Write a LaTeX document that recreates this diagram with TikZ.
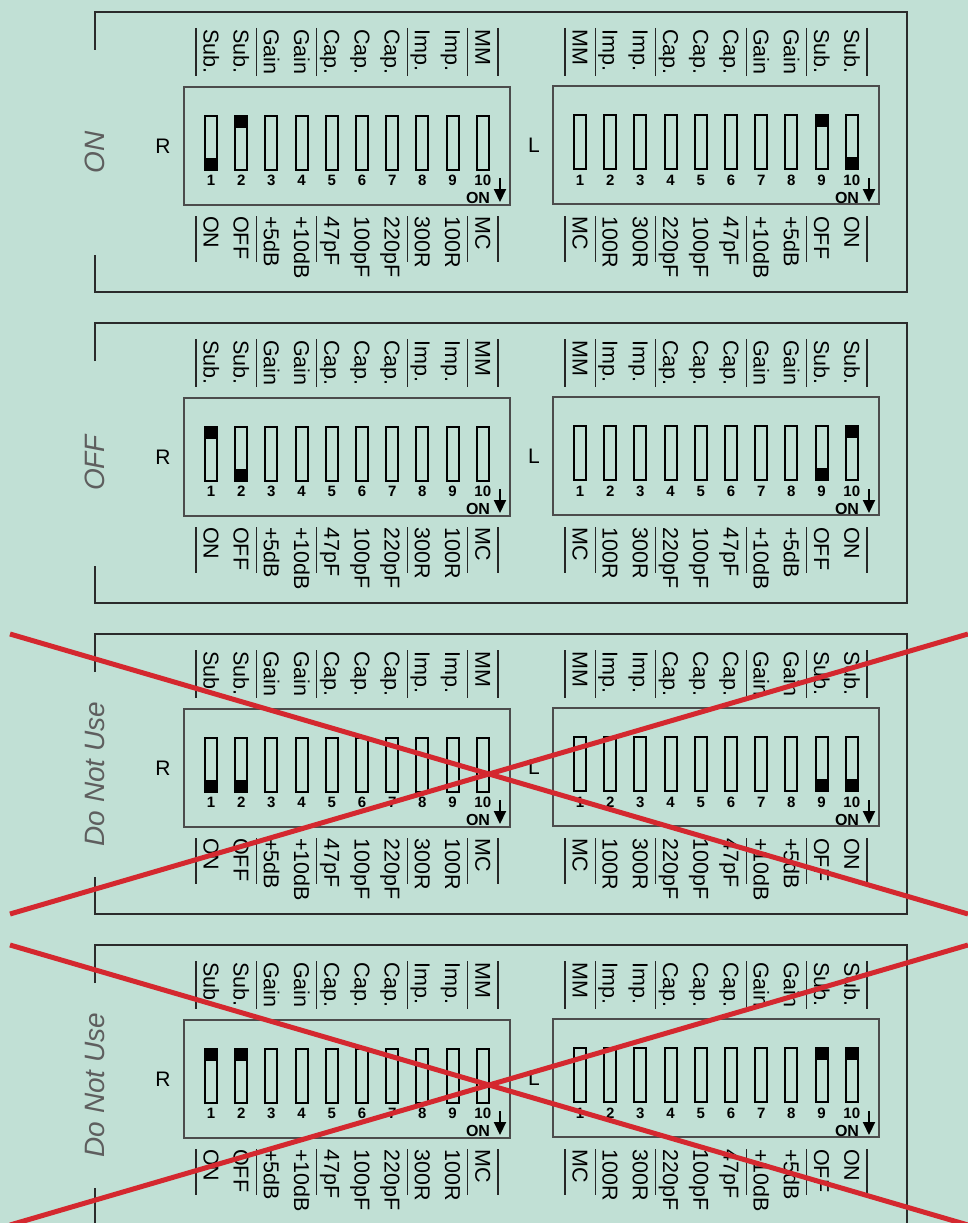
\documentclass[tikz,border=0pt]{standalone}
\usepackage{xcolor}
\usepackage{fontspec}
\setmainfont{Liberation Sans}
\usepackage{tikz}
\usetikzlibrary{arrows.meta}

\definecolor{bgmint}{HTML}{C1E0D5}
\definecolor{crossred}{HTML}{D4282F}
\definecolor{framegray}{HTML}{2B2B2B}
\definecolor{labelgray}{HTML}{5E5E5E}

\begin{document}
\begin{tikzpicture}[
  x=1pt, y=-1pt,
  panelframe/.style={draw=framegray, line width=2.8pt},
  dipbox/.style={draw=black!70, line width=1.3pt},
  dipswitch/.style={draw=black, line width=2pt},
  sepline/.style={draw=black!85, line width=1.2pt},
  caption/.style={rotate=-90, anchor=west, inner sep=0pt, text height=15pt, text depth=0pt, font=\fontsize{21.5}{21.5}\selectfont},
  swnum/.style={inner sep=0pt, font=\bfseries\fontsize{15}{15}\selectfont},
  onlabel/.style={inner sep=0pt, font=\bfseries\fontsize{16}{16}\selectfont},
  sidelabel/.style={inner sep=0pt, font=\fontsize{21}{21}\selectfont},
  statelabel/.style={rotate=90, inner sep=0pt, text=labelgray, font=\itshape\fontsize{28}{28}\selectfont},
  crossline/.style={draw=crossred, line width=5pt},
  onarrow/.style={-{Triangle[width=12pt,length=13pt]}, line width=2pt}
]
  \fill[bgmint] (0,0) rectangle (968,1223);
  \clip (0,0) rectangle (968,1223);

  % top of panel / label / R lever 1,2 / L lever 9,10 (0 = up, 1 = down) / crossed out
  \foreach \p/\name/\ra/\rb/\la/\lb/\x [count=\n] in {
      12/ON/1/0/0/1/0,
      323/OFF/0/1/1/0/0,
      634/Do Not Use/1/1/1/1/1,
      945/Do Not Use/0/0/0/0/1}{
    % frame, open where the label sits
    \draw[panelframe] (95,\p+38) -- (95,\p) -- (907,\p) -- (907,\p+280) -- (95,\p+280) -- (95,\p+243);
    \node[statelabel] (state\n) at (95,\p+140) {\name};

    % R channel
    \node[sidelabel] (r\n) at (163,\p+134) {R};
    \draw[dipbox] (184,\p+75) rectangle (510,\p+193);
    \foreach \t [count=\k from 0] in {Sub.,Sub.,Gain,Gain,Cap.,Cap.,Cap.,Imp.,Imp.,MM}
      \node[caption] (rt\n-\k) at (211+30.2*\k,\p+17) {\t};
    \foreach \t [count=\k from 0] in {ON,OFF,+5dB,+10dB,47pF,100pF,220pF,300R,100R,MC}
      \node[caption] (rb\n-\k) at (211+30.2*\k,\p+204) {\t};
    \foreach \k in {0,2,4,7,9,10}{
      \draw[sepline] (195.9+30.2*\k,\p+16) -- ++(0,48);
      \draw[sepline] (195.9+30.2*\k,\p+204) -- ++(0,46);
    }
    \foreach \k [count=\c] in {0,...,9}{
      \draw[dipswitch] ({round(205+30.2*\k)},\p+104) rectangle ++(12,54);
      \node[swnum] (rn\n-\c) at (211+30.2*\k,\p+168) {\c};
    }
    \fill (205,\p+104+42*\ra) rectangle ++(12,12);
    \fill (235,\p+104+42*\rb) rectangle ++(12,12);
    \node[onlabel] (ron\n) at (478,\p+186) {ON};
    \draw[onarrow] (500,\p+166) -- (500,\p+190);

    % L channel
    \node[sidelabel] (l\n) at (534,\p+133) {L};
    \draw[dipbox] (553,\p+74) rectangle (879,\p+192);
    \foreach \t [count=\k from 0] in {MM,Imp.,Imp.,Cap.,Cap.,Cap.,Gain,Gain,Sub.,Sub.}
      \node[caption] (lt\n-\k) at (580+30.2*\k,\p+17) {\t};
    \foreach \t [count=\k from 0] in {MC,100R,300R,220pF,100pF,47pF,+10dB,+5dB,OFF,ON}
      \node[caption] (lb\n-\k) at (580+30.2*\k,\p+204) {\t};
    \foreach \k in {0,1,3,6,8,10}{
      \draw[sepline] (564.9+30.2*\k,\p+16) -- ++(0,48);
      \draw[sepline] (564.9+30.2*\k,\p+204) -- ++(0,46);
    }
    \foreach \k [count=\c] in {0,...,9}{
      \draw[dipswitch] ({round(574+30.2*\k)},\p+103) rectangle ++(12,54);
      \node[swnum] (ln\n-\c) at (580+30.2*\k,\p+168) {\c};
    }
    \fill (816,\p+103+42*\la) rectangle ++(12,12);
    \fill (846,\p+103+42*\lb) rectangle ++(12,12);
    \node[onlabel] (lon\n) at (847,\p+186) {ON};
    \draw[onarrow] (869,\p+166) -- (869,\p+190);

    \ifnum\x=1
      \draw[crossline] (10,\p) -- (968,\p+280) (10,\p+280) -- (968,\p);
    \fi
  }
\end{tikzpicture}
\end{document}
